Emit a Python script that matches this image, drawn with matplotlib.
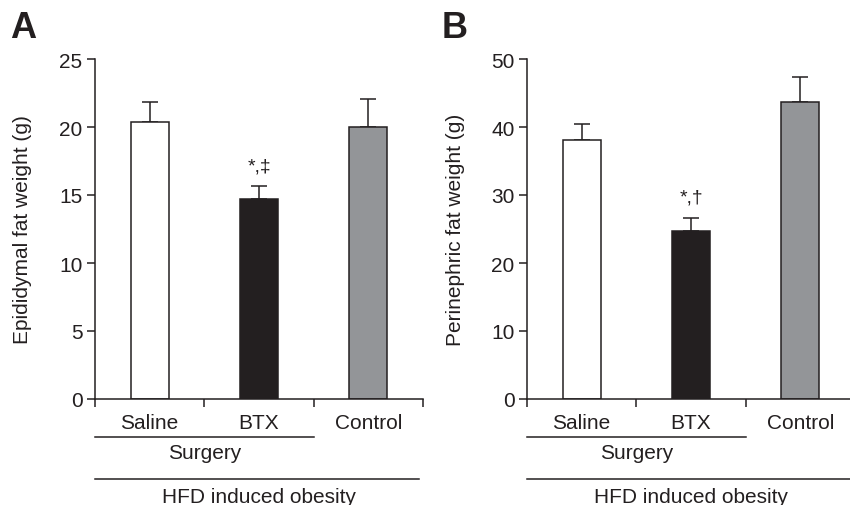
import matplotlib
matplotlib.use('Agg')
import matplotlib.pyplot as plt

plt.rcParams['font.family'] = ['Liberation Sans', 'DejaVu Sans']

groups = ['Saline', 'BTX', 'Control']
colors = ['white', '#231f20', '#939598']

# panel A - epididymal fat
epi_mean = [20.4, 14.7, 20.0]
epi_err = [1.45, 0.95, 2.05]
# panel B - perinephric fat
peri_mean = [38.1, 24.7, 43.7]
peri_err = [2.4, 1.9, 3.6]

ink = '#231f20'
fs = 15

fig = plt.figure(figsize=(8.5, 5.06), dpi=100)


def panel(left, mean, err, ymax, ystep, ylabel, letter, mark, mark_y, label_x):
    ax = fig.add_axes([left / 850, 106 / 506, 328 / 850, 340 / 506])
    x = range(len(groups))
    ax.bar(x, mean, width=0.35, color=colors, edgecolor=ink, linewidth=1.1, zorder=2)
    ax.errorbar(x, mean, yerr=[[0] * len(err), err], fmt='none', ecolor=ink,
                elinewidth=1.1, capsize=5.5, capthick=1.1, zorder=1)
    ax.set_xlim(-0.5, 2.5)
    ax.set_ylim(0, ymax)
    ax.set_yticks(range(0, ymax + 1, ystep))
    ax.set_xticks([-0.5, 0.5, 1.5, 2.5])
    ax.set_xticklabels([])
    for s in ['top', 'right']:
        ax.spines[s].set_visible(False)
    for s in ['left', 'bottom']:
        ax.spines[s].set_color(ink)
        ax.spines[s].set_linewidth(1.1)
    ax.tick_params(axis='both', colors=ink, labelsize=fs, width=1.1, length=6, direction='out')
    ax.tick_params(axis='y', pad=3)
    ax.set_ylabel(ylabel, fontsize=fs, color=ink, va='center')
    ax.yaxis.set_label_coords(label_x, 0.5)

    tr = ax.get_xaxis_transform()
    for i, g in enumerate(groups):
        ax.text(i, -0.068, g, transform=tr, ha='center', va='center', fontsize=fs, color=ink)
    ax.plot([-0.5, 1.5], [-0.112, -0.112], transform=tr, color=ink, lw=1.1, clip_on=False)
    ax.text(0.5, -0.157, 'Surgery', transform=tr, ha='center', va='center', fontsize=fs, color=ink)
    ax.plot([-0.5, 2.46], [-0.235, -0.235], transform=tr, color=ink, lw=1.1, clip_on=False)
    ax.text(1.0, -0.288, 'HFD induced obesity', transform=tr, ha='center', va='center',
            fontsize=fs, color=ink)

    ax.text(1, mark_y, mark, ha='center', va='center', fontsize=14, color=ink)
    fig.text((left - 85) / 850, 1 - 28 / 506, letter, fontsize=26, fontweight='bold',
             color=ink, ha='left', va='center', family=['Liberation Sans Narrow', 'Liberation Sans'])
    return ax


panel(95, epi_mean, epi_err, 25, 5, 'Epididymal fat weight (g)', 'A', '*,\u2021', 17.1, -0.222)
panel(527, peri_mean, peri_err, 50, 10, 'Perinephric fat weight (g)', 'B', '*,\u2020', 29.7, -0.217)

fig.savefig('out.png', dpi=100)
